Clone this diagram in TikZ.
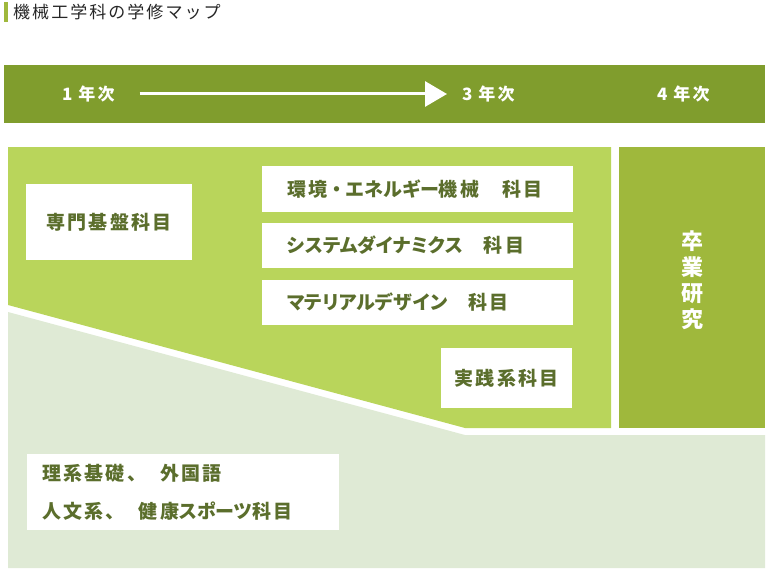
\documentclass[tikz,border=0pt]{standalone}
\usepackage{fontspec}
\setmainfont[LetterSpace=12]{Noto Sans CJK JP}
\newfontfamily\boxfont[LetterSpace=12,RawFeature=+palt]{Noto Sans CJK JP}
\newfontfamily\kanafont[LetterSpace=1,RawFeature=+palt]{Noto Sans CJK JP}
\newcommand{\kana}[1]{{\kanafont #1}}
\usetikzlibrary{arrows.meta}

\definecolor{barolive}{RGB}{128,157,45}
\definecolor{leafgreen}{RGB}{185,213,91}
\definecolor{mossgreen}{RGB}{159,184,60}
\definecolor{palegreen}{RGB}{223,234,213}
\definecolor{textolive}{RGB}{91,110,44}

\tikzset{
	subjbox/.style={fill=white,inner sep=0pt,text=textolive,
		font=\boxfont\bfseries\fontsize{19}{22}\selectfont},
	yearlabel/.style={anchor=west,inner sep=0pt,text=white,
		font=\bfseries\fontsize{17}{19}\selectfont}
}

\begin{document}
\begin{tikzpicture}[x=1pt,y=-1pt]
		\useasboundingbox (0,0) rectangle (768,575);
		% title
		\fill[mossgreen] (4,2) rectangle (8,22);
		\node[anchor=west,inner sep=0pt,text=black!85,font=\fontsize{17}{20}\selectfont] (title) at (13,12) {機械工学科の学修マップ};
		% year bar
		\fill[barolive] (4,65) rectangle (765,123);
		\node[yearlabel] (y1) at (62,94) {1 年次};
		\node[yearlabel] (y3) at (462,94) {3 年次};
		\node[yearlabel] (y4) at (657,94) {4 年次};
		\draw[white,line width=3pt,-{Triangle[length=22pt,width=25pt]},shorten <=25pt,shorten >=15pt] (y1.east) -- (y3.west);
		% areas
		\fill[leafgreen] (8,147) -- (611,147) -- (611,428) -- (465,428) -- (8,305) -- cycle;
		\fill[palegreen] (8,312) -- (465,435) -- (765,435) -- (765,568) -- (8,568) -- cycle;
		\fill[mossgreen] (619,147) rectangle (765,428);
		\node[align=center,inner sep=0pt,text=white,font=\bfseries\fontsize{22}{26}\selectfont] (sotsuken) at (692,280) {卒\\業\\研\\究};
		% subject boxes
		\node[subjbox,minimum width=166pt,minimum height=76pt] (kiban) at (109,222) {専門基盤科目};
		\node[subjbox,minimum width=311pt,minimum height=46pt,inner xsep=25pt,text width=261pt,align=left] (kankyo) at (417.5,189) {環境{\rmfamily ・}\kana{エネルギー}機械　科目};
		\node[subjbox,minimum width=311pt,minimum height=45pt,inner xsep=25pt,text width=261pt,align=left] (dyna) at (417.5,245.5) {\kana{システムダイナミクス}　科目};
		\node[subjbox,minimum width=311pt,minimum height=45pt,inner xsep=25pt,text width=261pt,align=left] (material) at (417.5,302.5) {\kana{マテリアルデザイン}　科目};
		\node[subjbox,minimum width=131pt,minimum height=60pt] (jissen) at (506.5,378) {実践系科目};
		\node[subjbox,minimum width=312pt,minimum height=76pt,inner xsep=15pt,text width=282pt,align=left,
			font=\boxfont\bfseries\fontsize{19}{38}\selectfont] (kiso) at (183,492) {理系基礎、　外国語\\人文系、　健康\kana{スポーツ}科目};
	\end{tikzpicture}
\end{document}
